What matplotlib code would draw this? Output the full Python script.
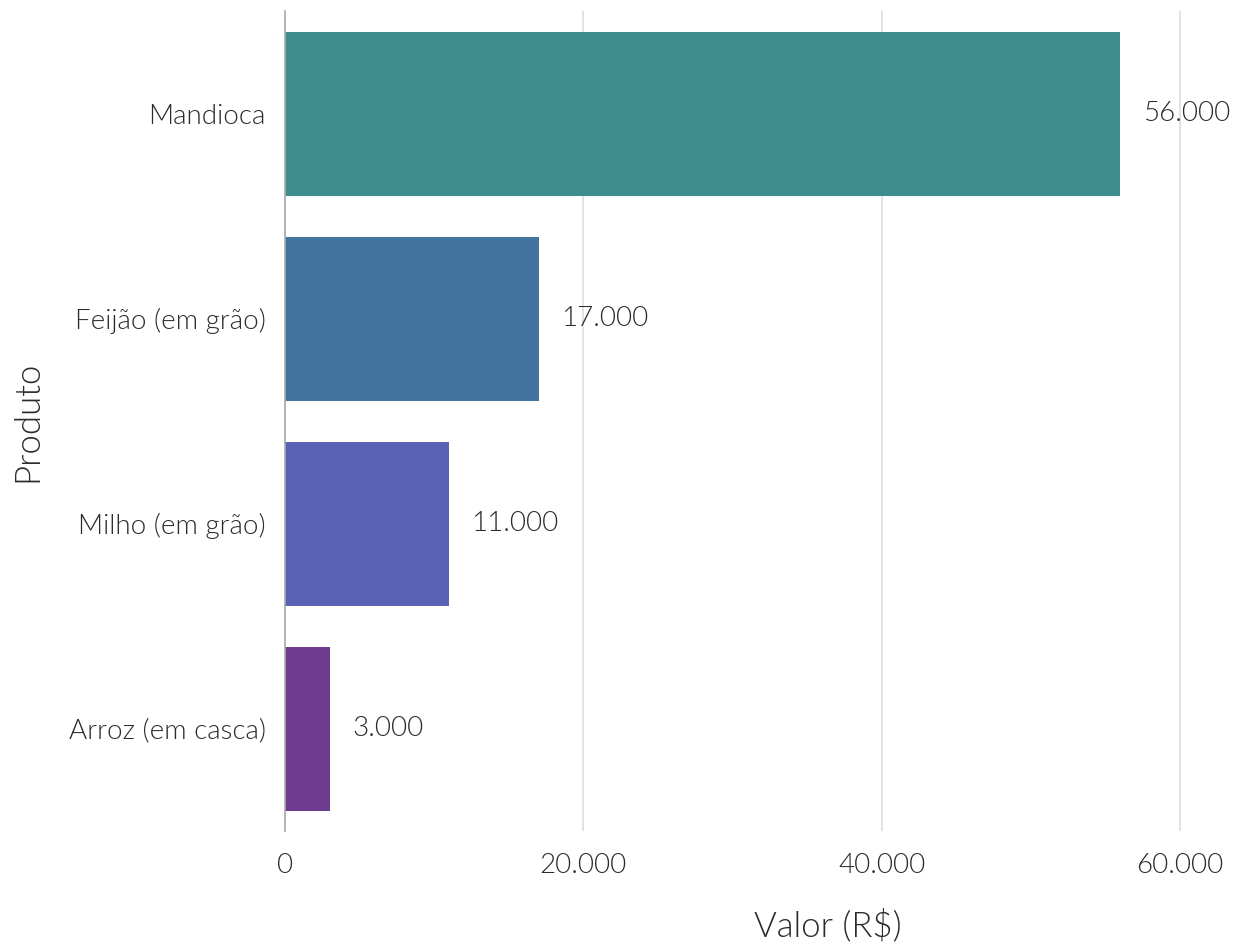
import matplotlib
matplotlib.use("Agg")
import matplotlib.pyplot as plt
from matplotlib.ticker import FuncFormatter

produtos = ['Mandioca', 'Feijão (em grão)', 'Milho (em grão)', 'Arroz (em casca)']
valores = [56000, 17000, 11000, 3000]
cores = ['#3f8e8f', '#43749f', '#5a62b6', '#6f3c92']

# Lato Light (peso 300; 'light' no matplotlib vira 200 = Hairline)
plt.rcParams['font.family'] = 'Lato'
plt.rcParams['font.weight'] = 300
plt.rcParams['axes.labelweight'] = 300
text_color = '#2b2b2b'


def fmt_milhar(v, pos=None):
    return f'{v:,.0f}'.replace(',', '.')


fig = plt.figure(figsize=(12.33, 9.43), dpi=100)
ax = fig.add_axes([285 / 1233, 112 / 943, (1195 - 285) / 1233, 820 / 943])

y = range(len(produtos))
ax.barh(y, valores, height=0.8, color=cores, zorder=2)
ax.set_ylim(3.5, -0.5)
ax.set_xlim(0, 61000)

# rótulos de valor ao lado das barras
for i, v in enumerate(valores):
    ax.text(v + 1500, i, fmt_milhar(v), va='center', ha='left',
            fontsize=20, color=text_color, fontweight=300)

ax.set_yticks(list(y))
ax.set_yticklabels(produtos)
ax.set_xticks([0, 20000, 40000, 60000])
ax.xaxis.set_major_formatter(FuncFormatter(fmt_milhar))
ax.tick_params(axis='both', length=0, labelsize=20, labelcolor=text_color)
ax.tick_params(axis='x', pad=16)
ax.tick_params(axis='y', pad=14)

ax.grid(axis='x', color='#dddddd', linewidth=1.2, zorder=0)
ax.set_axisbelow(True)
for s in ['top', 'right', 'bottom']:
    ax.spines[s].set_visible(False)
ax.spines['left'].set_color('#aaaaaa')
ax.spines['left'].set_linewidth(1.2)
ax.spines['left'].set_zorder(3)

ax.set_xlabel('Valor (R$)', fontsize=25, color=text_color)
ax.xaxis.set_label_coords(0.597, -0.095)
ax.set_ylabel('Produto', fontsize=25, color=text_color, labelpad=18)

fig.savefig('out.png', dpi=100)
